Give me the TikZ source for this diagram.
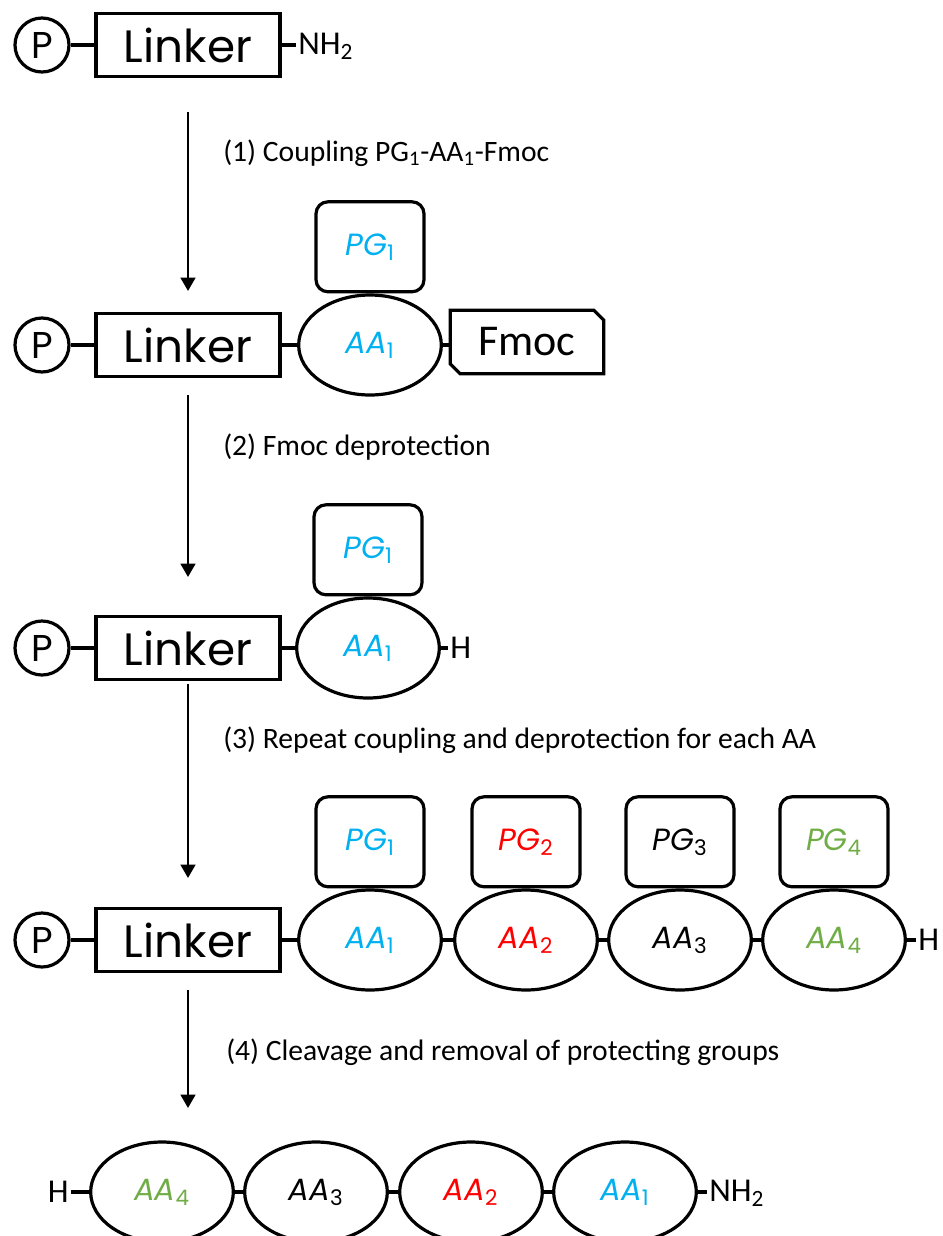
\documentclass[tikz,border=0pt]{standalone}
\usepackage{fontspec}
\setmainfont{Carlito}
\newfontfamily\comic{Poppins}
\usetikzlibrary{shapes.geometric,arrows.meta}
\definecolor{aablue}{RGB}{0,176,240}
\definecolor{aared}{RGB}{255,0,0}
\definecolor{aagreen}{RGB}{112,173,71}
\newcommand\lowidx[1]{\textsubscript{\upshape #1}}
\tikzset{
  shp/.style={draw, line width=2.4pt, fill=white, inner sep=0pt},
  pcirc/.style={shp, circle, minimum size=40.5pt, font=\comic\fontsize{28}{30}\selectfont},
  linkerbox/.style={shp, rectangle, minimum width=138pt, minimum height=47pt, font=\comic\fontsize{34}{38}\selectfont},
  aa/.style={shp, ellipse, minimum width=107pt, minimum height=75pt, font=\comic\itshape\fontsize{23}{26}\selectfont},
  pg/.style={shp, rectangle, rounded corners=9pt, minimum width=81pt, minimum height=67.5pt, font=\comic\itshape\fontsize{23}{26}\selectfont},
  fmocbox/.style={rectangle, inner sep=0pt, minimum width=114.75pt, minimum height=47.25pt, font=\fontsize{33}{36}\selectfont},
  bond/.style={line width=2.4pt},
  endgrp/.style={inner sep=1.5pt, font=\fontsize{25}{28}\selectfont},
  steplabel/.style={anchor=west, inner sep=0pt, font=\fontsize{22.2}{25}\selectfont},
  steparrow/.style={line width=1.8pt, -{Triangle[length=10pt, width=11pt]}},
}
\begin{document}
\begin{tikzpicture}[x=0.75pt, y=-0.75pt]
\useasboundingbox (0,0) rectangle (943,1236);

% ---------- Row 1
\node[pcirc] (p1) at (42,45) {P};
\node[linkerbox] (l1) at (188,45) {Linker};
\node[endgrp, anchor=west] (n1) at (296,46) {NH\textsubscript{2}};
\draw[bond] (p1) -- (l1);
\draw[bond] (l1.east) -- (l1.east -| n1.west);

% ---------- Step 1
\coordinate (a1s) at (188,112);
\coordinate (a1e) at (188,291);
\draw[steparrow] (a1s) -- (a1e);
\node[steplabel] (s1) at (223,153) {(1) Coupling PG\textsubscript{1}-AA\textsubscript{1}-Fmoc};

% ---------- Row 2
\node[pcirc] (p2) at (42,345) {P};
\node[linkerbox] (l2) at (188,345) {Linker};
\node[aa, text=aablue] (r2aa1) at (370,345) {AA\lowidx{1}};
\node[pg, text=aablue, anchor=south] (r2pg1) at (r2aa1.north) {PG\lowidx{1}};
\node[fmocbox] (fm) at (527,342) {Fmoc};
\draw[bond, fill=white] (fm.north west) -- ([xshift=-7.5pt]fm.north east) -- ([yshift=-7.5pt]fm.north east) -- (fm.south east) -- ([xshift=7.5pt]fm.south west) -- ([yshift=7.5pt]fm.south west) -- cycle;
\node[fmocbox] at (fm) {Fmoc};
\draw[bond] (p2) -- (l2);
\draw[bond] (l2.east) -- (r2aa1.west);
\draw[bond] (r2aa1.east) -- (r2aa1.east -| fm.west);

% ---------- Step 2
\coordinate (a2s) at (188,395);
\coordinate (a2e) at (188,577);
\draw[steparrow] (a2s) -- (a2e);
\node[steplabel] (s2) at (223,447) {(2) Fmoc deprotection};

% ---------- Row 3
\node[pcirc] (p3) at (42,648) {P};
\node[linkerbox] (l3) at (188,648) {Linker};
\node[aa, text=aablue] (r3aa1) at (368,648) {AA\lowidx{1}};
\node[pg, text=aablue, anchor=south] (r3pg1) at (r3aa1.north) {PG\lowidx{1}};
\node[endgrp, anchor=west] (h3) at (448,648) {H};
\draw[bond] (p3) -- (l3);
\draw[bond] (l3.east) -- (r3aa1.west);
\draw[bond] (r3aa1.east) -- (h3.west);

% ---------- Step 3
\coordinate (a3s) at (188,684);
\coordinate (a3e) at (188,878);
\draw[steparrow] (a3s) -- (a3e);
\node[steplabel] (s3) at (223,740) {(3) Repeat coupling and deprotection for each AA};

% ---------- Row 4
\node[pcirc] (p4) at (42,940) {P};
\node[linkerbox] (l4) at (188,940) {Linker};
\node[aa, text=aablue] (r4aa1) at (370,940) {AA\lowidx{1}};
\node[aa, text=aared] (r4aa2) at (526,940) {AA\lowidx{2}};
\node[aa] (r4aa3) at (680,940) {AA\lowidx{3}};
\node[aa, text=aagreen] (r4aa4) at (834,940) {AA\lowidx{4}};
\node[pg, text=aablue, anchor=south] (r4pg1) at (r4aa1.north) {PG\lowidx{1}};
\node[pg, text=aared, anchor=south] (r4pg2) at (r4aa2.north) {PG\lowidx{2}};
\node[pg, anchor=south] (r4pg3) at (r4aa3.north) {PG\lowidx{3}};
\node[pg, text=aagreen, anchor=south] (r4pg4) at (r4aa4.north) {PG\lowidx{4}};
\node[endgrp, anchor=west] (h4) at (916,940) {H};
\draw[bond] (p4) -- (l4);
\draw[bond] (l4.east) -- (r4aa1.west);
\draw[bond] (r4aa1.east) -- (r4aa2.west);
\draw[bond] (r4aa2.east) -- (r4aa3.west);
\draw[bond] (r4aa3.east) -- (r4aa4.west);
\draw[bond] (r4aa4.east) -- (h4.west);

% ---------- Step 4
\coordinate (a4s) at (188,990);
\coordinate (a4e) at (188,1108);
\draw[steparrow] (a4s) -- (a4e);
\node[steplabel] (s4) at (226,1052) {(4) Cleavage and removal of protecting groups};

% ---------- Row 5
\node[endgrp, anchor=east] (h5) at (71,1192) {H};
\node[aa, text=aagreen] (r5aa4) at (162,1192) {AA\lowidx{4}};
\node[aa] (r5aa3) at (316,1192) {AA\lowidx{3}};
\node[aa, text=aared] (r5aa2) at (471,1192) {AA\lowidx{2}};
\node[aa, text=aablue] (r5aa1) at (625,1192) {AA\lowidx{1}};
\node[endgrp, anchor=west] (n5) at (707,1193) {NH\textsubscript{2}};
\draw[bond] (h5.east) -- (r5aa4.west);
\draw[bond] (r5aa4.east) -- (r5aa3.west);
\draw[bond] (r5aa3.east) -- (r5aa2.west);
\draw[bond] (r5aa2.east) -- (r5aa1.west);
\draw[bond] (r5aa1.east) -- (r5aa1.east -| n5.west);
\end{tikzpicture}
\end{document}
